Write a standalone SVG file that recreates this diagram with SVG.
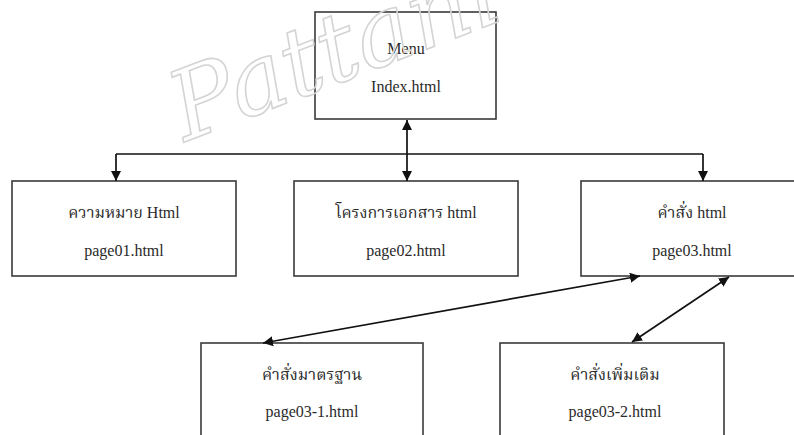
<svg xmlns="http://www.w3.org/2000/svg" width="794" height="435" viewBox="0 0 794 435">
  <style>
    .box { fill: #ffffff; stroke: #3a3a3a; stroke-width: 1.6; }
    .label { font-family: "Liberation Serif", "Noto Serif Thai", "Noto Sans Thai", "Noto Sans", serif; font-size: 16px; fill: #2a2a2a; text-anchor: middle; }
    .link { fill: none; stroke: #111111; stroke-width: 1.7; }
    .mark { font-family: "DejaVu Serif", "Liberation Serif", serif; font-style: italic; font-size: 96px; fill: none; stroke: #d4d4d4; stroke-width: 1.6; }
  </style>
  <defs>
    <marker id="arrowEnd" viewBox="0 0 10 10" refX="10" refY="5" markerWidth="10" markerHeight="10" markerUnits="userSpaceOnUse" orient="auto">
      <path d="M0,0 L10,5 L0,10 Z" fill="#111111"/>
    </marker>
    <marker id="arrowStart" viewBox="0 0 10 10" refX="0" refY="5" markerWidth="10" markerHeight="10" markerUnits="userSpaceOnUse" orient="auto">
      <path d="M10,0 L0,5 L10,10 Z" fill="#111111"/>
    </marker>
  </defs>

  <rect width="794" height="435" fill="#ffffff"/>

  <g id="menu">
    <rect class="box" x="315" y="12" width="181" height="107"/>
    <text class="label" x="406" y="54">Menu</text>
    <text class="label" x="406" y="92">Index.html</text>
  </g>

  <g id="page01">
    <rect class="box" x="12" y="181" width="224" height="95"/>
    <text class="label" x="124" y="218">ความหมาย Html</text>
    <text class="label" x="124" y="256">page01.html</text>
  </g>

  <g id="page02">
    <rect class="box" x="294" y="181" width="224" height="95"/>
    <text class="label" x="406" y="218">โครงการเอกสาร html</text>
    <text class="label" x="406" y="256">page02.html</text>
  </g>

  <g id="page03">
    <rect class="box" x="581" y="181" width="224" height="95"/>
    <text class="label" x="692" y="218">คำสั่ง html</text>
    <text class="label" x="692" y="256">page03.html</text>
  </g>

  <g id="page03-1">
    <rect class="box" x="201" y="343" width="222" height="100"/>
    <text class="label" x="312" y="380">คำสั่งมาตรฐาน</text>
    <text class="label" x="312" y="417">page03-1.html</text>
  </g>

  <g id="page03-2">
    <rect class="box" x="500" y="343" width="224" height="100"/>
    <text class="label" x="615" y="380">คำสั่งเพิ่มเติม</text>
    <text class="label" x="615" y="417">page03-2.html</text>
  </g>

  <g id="connectors">
    <path class="link" d="M407,120 L407,181" marker-start="url(#arrowStart)" marker-end="url(#arrowEnd)"/>
    <path class="link" d="M116,154 L703,154"/>
    <path class="link" d="M116,154 L116,181" marker-end="url(#arrowEnd)"/>
    <path class="link" d="M703,154 L703,181" marker-end="url(#arrowEnd)"/>
    <path class="link" d="M640,276 L263,343" marker-start="url(#arrowStart)" marker-end="url(#arrowEnd)"/>
    <path class="link" d="M729,277 L632,342" marker-start="url(#arrowStart)" marker-end="url(#arrowEnd)"/>
  </g>

  <!-- faint watermark over the chart -->
  <text class="mark" x="0" y="0" transform="translate(185,142) rotate(-21)">Pattani</text>
</svg>
